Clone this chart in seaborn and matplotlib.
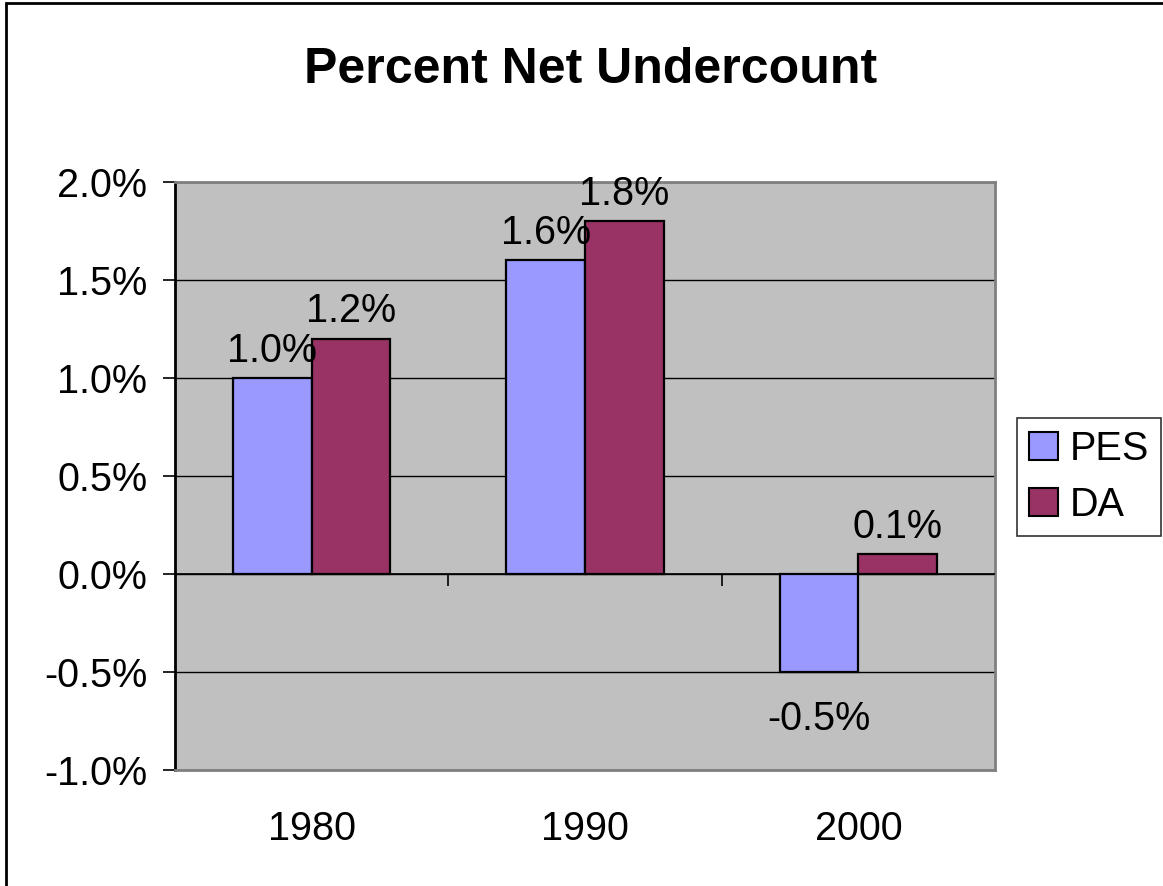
import numpy as np
import pandas as pd
import matplotlib
matplotlib.use("Agg")
import matplotlib.pyplot as plt
import seaborn as sns
from matplotlib.patches import Rectangle, Patch

years = ["1980", "1990", "2000"]
series = ["PES", "DA"]
pes_values = [1.0, 1.6, -0.5]
da_values = [1.2, 1.8, 0.1]
y_ticks = [-1.0, -0.5, 0.0, 0.5, 1.0, 1.5, 2.0]
colors = {"PES": "#9999FF", "DA": "#993366"}

df = pd.DataFrame({
    "year": years * 2,
    "series": ["PES"] * 3 + ["DA"] * 3,
    "value": pes_values + da_values,
})

sns.set_style("white")
plt.rcParams["font.family"] = ["Liberation Sans", "DejaVu Sans"]
plt.rcParams["text.color"] = "black"
plt.rcParams["xtick.color"] = "black"
plt.rcParams["ytick.color"] = "black"

W, H = 1163, 886
fig = plt.figure(figsize=(W / 100, H / 100), dpi=100)
ax = fig.add_axes([175 / W, 1 - 770 / H, (995 - 175) / W, (770 - 182) / H])
ax.set_facecolor("#C0C0C0")

# grid lines under bars
for t in y_ticks:
    ax.axhline(t, color="black", lw=1.0, zorder=0)

sns.barplot(data=df, x="year", y="value", hue="series", hue_order=series,
            palette=colors, width=0.575, edgecolor="black", linewidth=1.6,
            saturation=1, ax=ax, legend=False, zorder=2)

# labels above positive bars, further below negative ones
for cont in ax.containers:
    vals = [b.get_height() for b in cont]
    pos = [f"{v:.1f}%" if v >= 0 else "" for v in vals]
    neg = [f"{v:.1f}%" if v < 0 else "" for v in vals]
    ax.bar_label(cont, labels=pos, fontsize=28.5, padding=6, color="black")
    ax.bar_label(cont, labels=neg, fontsize=28.5, padding=20, color="black")

ax.set_xlim(-0.5, 2.5)
ax.set_ylim(-1.0, 2.0)
ax.set_yticks(y_ticks)
ax.set_yticklabels([f"{t:.1f}%" for t in y_ticks])
ax.tick_params(axis="y", direction="out", length=9, width=1.2, color="black",
               labelsize=28.5, pad=11, left=True)
ax.tick_params(axis="x", length=0, labelsize=28.5, pad=29)
ax.set_xlabel("")
ax.set_ylabel("")

# zero line with category separators
ax.axhline(0, color="black", lw=1.2, zorder=3)
ax.vlines([0.5, 1.5], 0, -0.06, color="black", lw=1.2, zorder=3)

for side in ["top", "right", "bottom"]:
    ax.spines[side].set_visible(True)
    ax.spines[side].set_color("#808080")
    ax.spines[side].set_linewidth(2)
ax.spines["left"].set_color("black")
ax.spines["left"].set_linewidth(2)

fig.text(591 / W, 1 - 70 / H, "Percent Net Undercount", ha="center", va="center",
         fontsize=36, fontweight="bold", color="black")

handles = [Patch(facecolor=colors[s], edgecolor="black", linewidth=1.5, label=s) for s in series]
leg = fig.legend(handles=handles, loc="center", bbox_to_anchor=(1089 / W, 1 - 477 / H),
                 fontsize=28.5, frameon=True, fancybox=False, edgecolor="black",
                 handlelength=0.72, handleheight=0.72, handletextpad=0.3,
                 borderpad=0.3, labelspacing=0.45, borderaxespad=0)
leg.get_frame().set_linewidth(1.2)
for txt in leg.get_texts():
    txt.set_color("black")

fig.patches.append(Rectangle((6 / W, -0.1), 1.2, 1.1 - 3 / H, transform=fig.transFigure,
                             fill=False, edgecolor="black", lw=2))

fig.savefig("out.png", dpi=100)
